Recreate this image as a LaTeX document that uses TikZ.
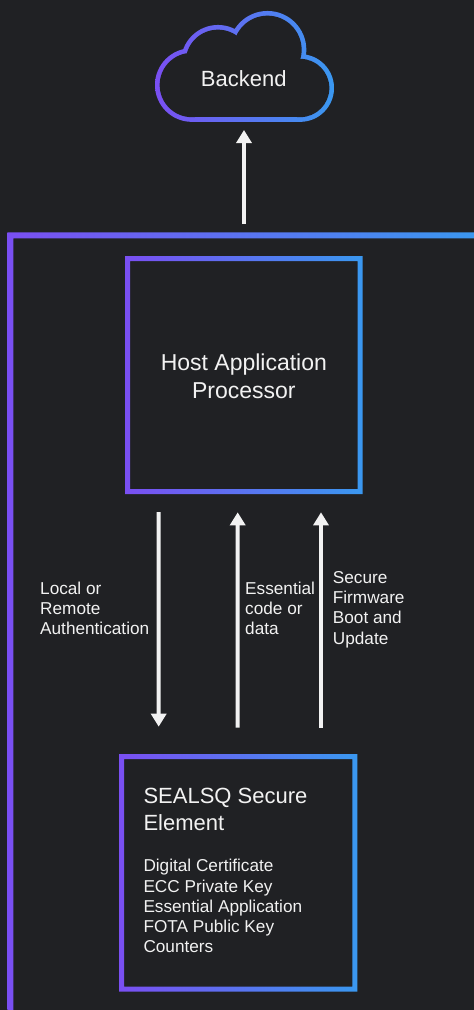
\documentclass[tikz,border=0pt]{standalone}
\usepackage{fontspec}
\setmainfont{Liberation Sans}
\usetikzlibrary{arrows.meta,calc}
\definecolor{bg}{HTML}{202124}
\definecolor{gA}{HTML}{7A4FF2}
\definecolor{gB}{HTML}{3A98F0}
\definecolor{txt}{HTML}{F2F2F2}
\begin{document}
\begin{tikzpicture}[x=1pt,y=-1pt,
  grad/.style={left color=gA,right color=gB},
  ring/.style={grad,even odd rule},
  cloudpiece/.style={path picture={\shade[grad] (155,5) rectangle (334,125);}},
  boxnode/.style={inner sep=0pt,outer sep=0pt},
  bigtxt/.style={text=txt,inner sep=0pt,font=\fontsize{23}{27.7}\selectfont},
  midtxt/.style={text=txt,inner sep=0pt,font=\fontsize{22}{26.7}\selectfont},
  smalltxt/.style={text=txt,inner sep=0pt,font=\fontsize{17.2}{20.3}\selectfont},
  arr/.style={draw=txt,line width=4pt,-{Triangle[width=15pt,length=13pt]}}]
\useasboundingbox[fill=bg] (0,0) rectangle (474,1010);

% outer frame
\coordinate (fNW) at (7.3,232.3);
\coordinate (ftop) at (244,232.3);
\shade[ring] (fNW) rectangle (480,1020) ($(fNW)+(6,6)$) rectangle (481,1021);

% cloud
\node[boxnode,minimum width=179pt,minimum height=111pt] (cloud) at (244.5,66.2) {};
\path[cloudpiece] (191.8,85) circle[radius=36.85];
\path[cloudpiece] (218,62) circle[radius=37.05];
\path[cloudpiece] (267.5,49.8) circle[radius=38.85];
\path[cloudpiece] (300.2,88) circle[radius=33.85];
\path[cloudpiece] (191.8,60) rectangle (300.2,121.85);
\fill[bg] (191.8,85) circle[radius=32.15];
\fill[bg] (218,62) circle[radius=32.35];
\fill[bg] (267.5,49.8) circle[radius=34.15];
\fill[bg] (300.2,88) circle[radius=29.15];
\fill[bg] (191.8,60) rectangle (300.2,117.15);
\node[midtxt,anchor=base] (backend) at (243.7,86.7) {Backend};

% host box
\node[boxnode,minimum width=237.7pt,minimum height=238pt] (host) at (243.85,375) {};
\shade[ring] (host.north west) rectangle (host.south east)
  ($(host.north west)+(5,5)$) rectangle ($(host.south east)+(-5,-5)$);
\node[bigtxt,align=center,anchor=base] (hosttxt) at (243.85,398.3) {Host Application\\Processor};

% secure element box
\node[boxnode,minimum width=238.3pt,minimum height=237.7pt] (se) at (238.15,872.85) {};
\shade[ring] (se.north west) rectangle (se.south east)
  ($(se.north west)+(5,5)$) rectangle ($(se.south east)+(-5,-5)$);
\node[midtxt,align=left,anchor=base west] (setitle) at (143.3,830) {SEALSQ Secure\\Element};
\node[smalltxt,align=left,anchor=base west] (selist) at (143.3,952.9) {Digital Certificate\\ECC Private Key\\Essential Application\\FOTA Public Key\\Counters};

% labels
\node[smalltxt,align=left,anchor=base west] (lauth) at (40,634.6) {Local or\\Remote\\Authentication};
\node[smalltxt,align=left,anchor=base west] (lcode) at (245,634.6) {Essential\\code or\\data};
\node[smalltxt,align=left,anchor=base west] (lfw) at (332.7,644.2) {Secure\\Firmware\\Boot and\\Update};

% arrows
\draw[arr] ($(ftop)+(0,-8.3)$) -- ($(cloud.south)+(-0.5,8.3)$);
\draw[arr] ($(host.south west)+(33.7,18)$) -- ($(se.north west)+(39.7,-27.3)$);
\draw[arr] ($(se.north west)+(118.7,-26.3)$) -- ($(host.south west)+(112.7,18.3)$);
\draw[arr] ($(se.north west)+(202,-26.3)$) -- ($(host.south west)+(196,18.3)$);
\end{tikzpicture}
\end{document}
